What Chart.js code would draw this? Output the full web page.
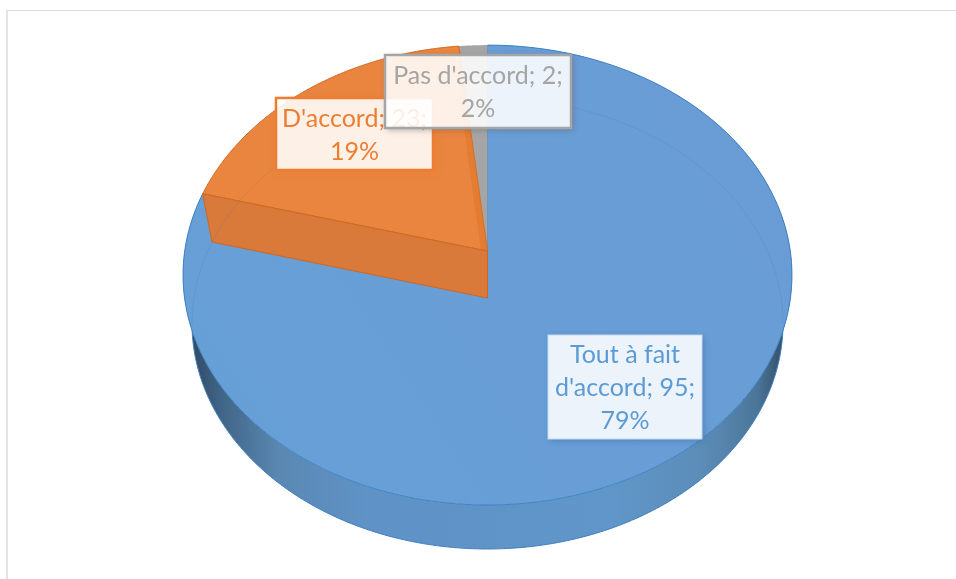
<!DOCTYPE html>
<html>
<head>
<meta charset="utf-8">
<title>Pie</title>
<script src="https://cdn.jsdelivr.net/npm/chart.js@4"></script>
<style>
    body { margin: 0; background: #fff; overflow: hidden; }
    #frame { position: absolute; left: 6px; top: 10px; width: 950px; height: 569px; box-sizing: border-box; border-top: 1px solid #dcdcdc; border-left: 2px solid #e4e4e4; }
    #myChart { position: absolute; left: 0; top: 0; }
</style>
</head>
<body>
<div id="frame"></div>
<canvas id="myChart" width="956" height="579"></canvas>
<script>
const categories = ["Tout à fait d'accord", "D'accord", "Pas d'accord"];
const answers = [95, 23, 2];
const percents = ["79%", "19%", "2%"];
const sliceColors = ["#679ed6", "#e9853f", "#a5a5a5"];
const textColors = ["#5b9bd5", "#ed7d31", "#a5a5a5"];
const borderColors = ["#c5d9ef", "#ed7d31", "#a5a5a5"];
const shadowColors = ["rgba(50,100,160,0.45)", "rgba(237,125,49,0.6)", "rgba(90,90,90,0.45)"];
// label boxes: x, y, w, h
const labelBoxes = [
    [548, 335, 154, 104],
    [276, 98, 157, 72],
    [385, 55, 186, 73]
];
const labelFont = "25px Lato";
const lineHeight = 33;

// perspective of the disc, everything relative to the pie radius
const topFace = { shift: -0.104, a: 0.989, b: 1.3165, k: 0.1043 };
const bottomFace = { shift: 0.1, a: 0.968, b: 1.2766, k: 0.113 };

function project(arc, face, angle) {
    const x = Math.cos(angle);
    const y = Math.sin(angle);
    const d = 1 - face.k * y;
    return {
        x: arc.x + arc.outerRadius * face.b * x / d,
        y: arc.y + arc.outerRadius * (face.shift + face.a * y / d)
    };
}
function center(arc, face) {
    return { x: arc.x, y: arc.y + arc.outerRadius * face.shift };
}
function rim(ctx, arc, face, from, to) {
    const steps = 200;
    for (let i = 0; i <= steps; i++) {
        const p = project(arc, face, from + (to - from) * i / steps);
        ctx.lineTo(p.x, p.y);
    }
}
function sector(ctx, arc, face) {
    const c = center(arc, face);
    ctx.beginPath();
    ctx.moveTo(c.x, c.y);
    rim(ctx, arc, face, arc.startAngle, arc.endAngle);
    ctx.closePath();
}
function cutWall(ctx, arc, angle) {
    const c1 = center(arc, topFace);
    const c2 = center(arc, bottomFace);
    const p1 = project(arc, topFace, angle);
    const p2 = project(arc, bottomFace, angle);
    ctx.beginPath();
    ctx.moveTo(c1.x, c1.y);
    ctx.lineTo(p1.x, p1.y);
    ctx.lineTo(p2.x, p2.y);
    ctx.lineTo(c2.x, c2.y);
    ctx.closePath();
}
function wrapText(ctx, text, width) {
    const lines = [];
    let line = "";
    for (const word of text.split(" ")) {
        const test = line ? line + " " + word : word;
        if (line && ctx.measureText(test).width > width) {
            lines.push(line);
            line = word;
        }
        else {
            line = test;
        }
    }
    lines.push(line);
    return lines;
}

const pie3d = {
    id: "pie3d",
    beforeDatasetDraw(chart, args) {
        const ctx = chart.ctx;
        const arcs = args.meta.data;
        const blue = arcs[0];
        const orange = arcs[1];
        const gray = arcs[2];
        const left = blue.x - blue.outerRadius * topFace.b * 1.01;
        const right = blue.x + blue.outerRadius * topFace.b * 1.01;

        // outer wall of the big slice
        const wall = ctx.createLinearGradient(left, 0, right, 0);
        wall.addColorStop(0, "#2c4058");
        wall.addColorStop(0.06, "#3f6384");
        wall.addColorStop(0.16, "#5a88b2");
        wall.addColorStop(0.3, "#5f92c6");
        wall.addColorStop(0.7, "#6096c9");
        wall.addColorStop(0.85, "#5c8db8");
        wall.addColorStop(0.94, "#4b7699");
        wall.addColorStop(1, "#2c4058");
        ctx.save();
        ctx.beginPath();
        const s = project(blue, topFace, blue.startAngle);
        ctx.moveTo(s.x, s.y);
        rim(ctx, blue, topFace, blue.startAngle, blue.endAngle);
        rim(ctx, blue, bottomFace, blue.endAngle, blue.startAngle);
        ctx.closePath();
        ctx.fillStyle = wall;
        ctx.fill();
        ctx.beginPath();
        rim(ctx, blue, bottomFace, 0.05, Math.PI - 0.05);
        ctx.strokeStyle = "#3f80c0";
        ctx.lineWidth = 1;
        ctx.stroke();

        // top faces
        sector(ctx, blue, topFace);
        const face = ctx.createLinearGradient(left, 500, right, 100);
        face.addColorStop(0, "#66a0d6");
        face.addColorStop(1, "#6a9cd5");
        ctx.fillStyle = face;
        ctx.fill();
        ctx.beginPath();
        rim(ctx, blue, topFace, blue.startAngle, blue.endAngle);
        ctx.strokeStyle = "#3f82c4";
        ctx.lineWidth = 1;
        ctx.stroke();
        const c = center(blue, topFace);
        const t = project(blue, topFace, blue.startAngle);
        ctx.beginPath();
        ctx.moveTo(c.x, c.y);
        ctx.lineTo(t.x, t.y);
        ctx.stroke();

        sector(ctx, gray, topFace);
        ctx.fillStyle = gray.options.backgroundColor;
        ctx.fill();

        sector(ctx, orange, topFace);
        ctx.fillStyle = orange.options.backgroundColor;
        ctx.fill();
        ctx.strokeStyle = "#d06a22";
        ctx.lineWidth = 1;
        ctx.stroke();

        // thin end wall seen through the orange slice, then the front cut
        cutWall(ctx, orange, orange.endAngle);
        ctx.fillStyle = "rgba(222,112,36,0.45)";
        ctx.fill();
        cutWall(ctx, orange, orange.startAngle);
        ctx.fillStyle = "#d97a3b";
        ctx.fill();
        ctx.strokeStyle = "#cf6720";
        ctx.stroke();

        // far edge of the disc's underside, faintly visible through the top
        ctx.beginPath();
        rim(ctx, blue, bottomFace, -Math.PI - 0.12, 0.12);
        ctx.strokeStyle = "rgba(60,110,170,0.16)";
        ctx.lineWidth = 1;
        ctx.stroke();
        ctx.restore();
        return false;
    },
    afterDatasetsDraw(chart) {
        const ctx = chart.ctx;
        categories.forEach((name, i) => {
            const [x, y, w, h] = labelBoxes[i];
            // shadow only outside the box, the fill is see-through
            ctx.save();
            ctx.beginPath();
            ctx.rect(0, 0, chart.width, chart.height);
            ctx.rect(x, y, w, h);
            ctx.clip("evenodd");
            ctx.shadowColor = shadowColors[i];
            ctx.shadowBlur = 6;
            ctx.shadowOffsetX = 2;
            ctx.shadowOffsetY = 2;
            ctx.fillStyle = "#ffffff";
            ctx.fillRect(x, y, w, h);
            ctx.restore();

            ctx.save();
            ctx.fillStyle = "rgba(255,255,255,0.88)";
            ctx.fillRect(x, y, w, h);
            ctx.strokeStyle = borderColors[i];
            ctx.lineWidth = i === 0 ? 1 : 2.5;
            ctx.strokeRect(x, y, w, h);
            ctx.font = labelFont;
            ctx.fillStyle = textColors[i];
            ctx.textAlign = "center";
            ctx.textBaseline = "middle";
            const lines = wrapText(ctx, `${name}; ${answers[i]};`, w - 12);
            lines.push(percents[i]);
            const startY = y + h / 2 - (lines.length - 1) * lineHeight / 2 + 1;
            lines.forEach((line, j) => {
                ctx.fillText(line, x + w / 2, startY + j * lineHeight);
            });
            ctx.restore();
        });
    }
};

new Chart("myChart", {
    type: "pie",
    data: {
        labels: categories,
        datasets: [{
            data: answers,
            backgroundColor: sliceColors,
            borderWidth: 0
        }]
    },
    options: {
        responsive: false,
        animation: false,
        layout: { padding: { left: 19, top: 45, bottom: 74 } },
        plugins: {
            legend: { display: false },
            tooltip: { enabled: false }
        }
    },
    plugins: [pie3d]
});
</script>
</body>
</html>
